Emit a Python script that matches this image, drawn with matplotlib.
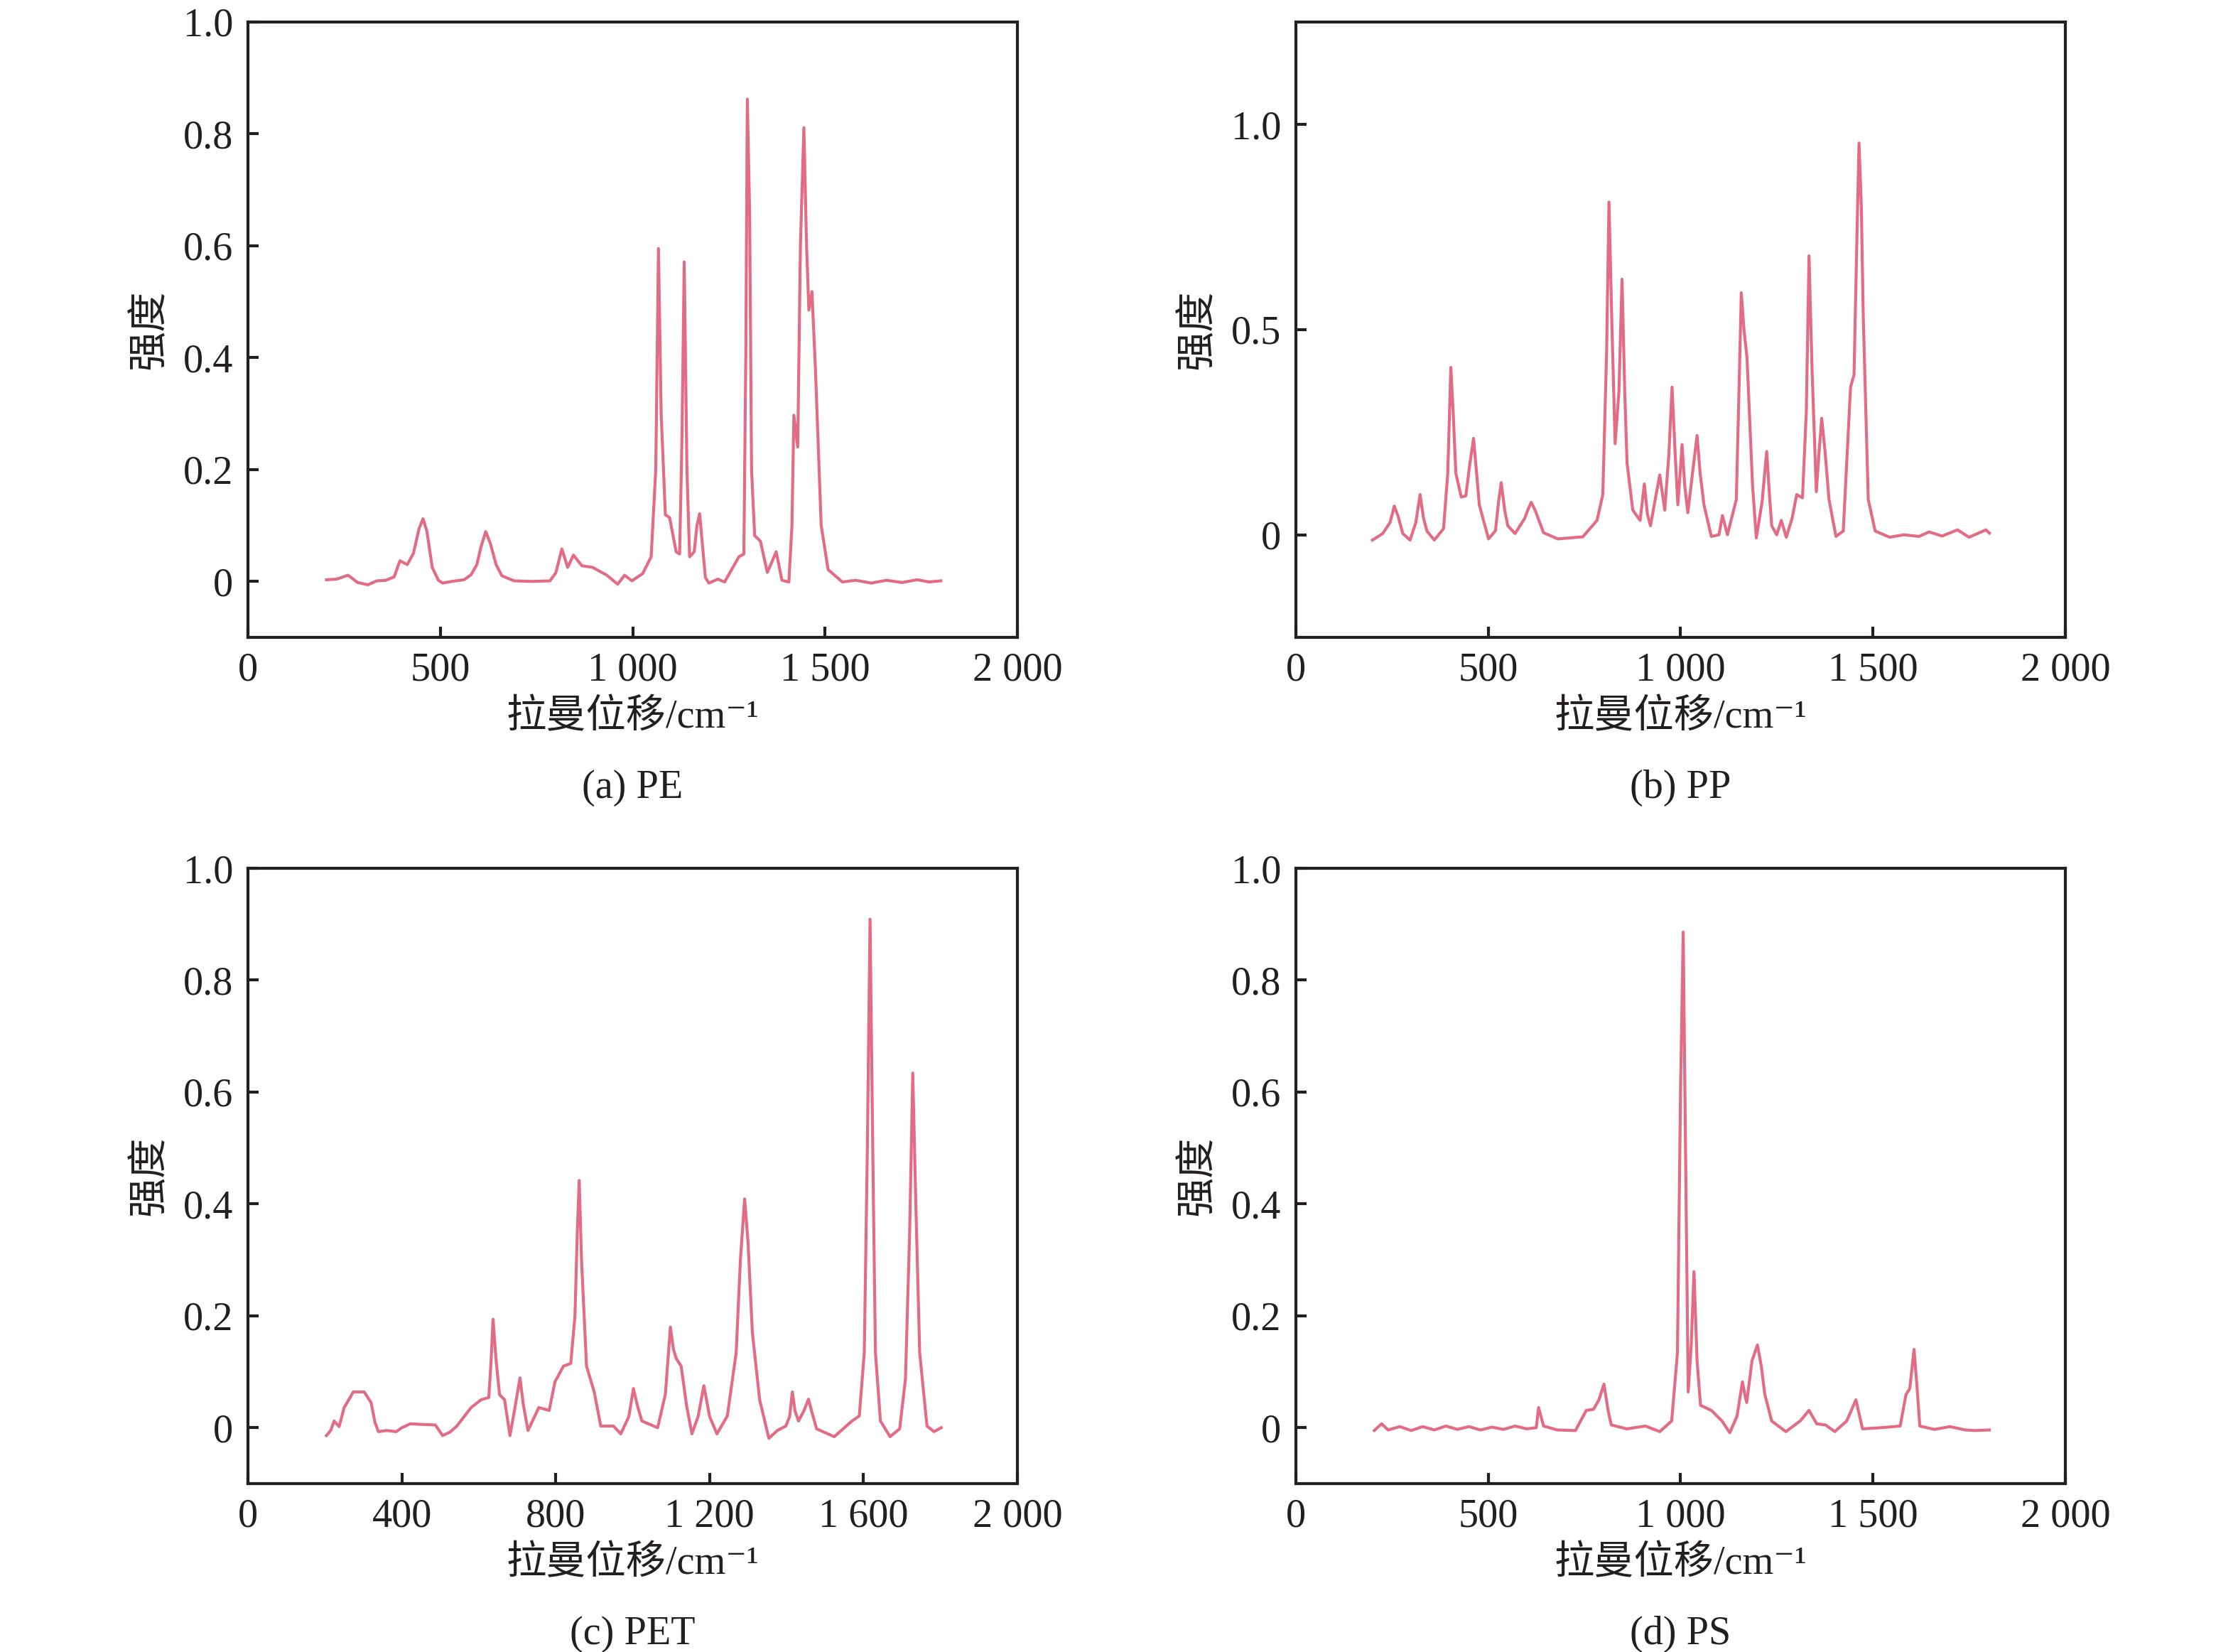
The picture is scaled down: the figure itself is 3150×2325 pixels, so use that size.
#!/usr/bin/env python3
"""Raman spectra of four microplastics (PE, PP, PET, PS) in a 2x2 grid."""

import matplotlib
matplotlib.use("Agg")
import matplotlib.pyplot as plt
from matplotlib.ticker import FixedLocator, FuncFormatter

plt.rcParams["font.family"] = ["Liberation Serif", "Noto Sans CJK SC", "DejaVu Sans"]
plt.rcParams["axes.unicode_minus"] = False

# ---- data (Raman shift / cm-1, normalised intensity)
PE_SHIFT = [204, 230, 260, 285, 312, 335, 358, 380, 395, 414, 430, 445, 455, 465,
            479, 495, 506, 530, 562, 580, 595, 605, 618, 630, 645, 660, 692, 740,
            785, 800, 816, 831, 846, 868, 896, 933, 961, 979, 998, 1026, 1048, 1060,
            1067, 1074, 1085, 1096, 1113, 1122, 1128, 1134, 1141, 1148, 1160, 1167,
            1174, 1189, 1198, 1221, 1239, 1276, 1289, 1294, 1298, 1304, 1309, 1317,
            1332, 1350, 1362, 1373, 1388, 1406, 1414, 1419, 1429, 1436, 1445, 1452,
            1458, 1466, 1475, 1490, 1508, 1545, 1580, 1620, 1660, 1700, 1740, 1770,
            1801]
PE_INTENSITY = [0.003, 0.004, 0.011, -0.002, -0.006, 0.001, 0.002, 0.008, 0.037, 0.030,
                0.050, 0.095, 0.112, 0.090, 0.025, 0.002, -0.003, 0.000, 0.003, 0.012,
                0.030, 0.060, 0.089, 0.068, 0.030, 0.010, 0.001, 0.000, 0.001, 0.015,
                0.058, 0.025, 0.047, 0.028, 0.025, 0.011, -0.005, 0.011, 0.001, 0.014,
                0.044, 0.200, 0.595, 0.300, 0.119, 0.114, 0.053, 0.049, 0.250, 0.571,
                0.200, 0.044, 0.053, 0.100, 0.121, 0.007, -0.003, 0.004, -0.001, 0.044,
                0.049, 0.400, 0.862, 0.660, 0.200, 0.082, 0.072, 0.016, 0.035, 0.053,
                0.002, -0.001, 0.100, 0.297, 0.240, 0.600, 0.811, 0.600, 0.485, 0.518,
                0.380, 0.100, 0.021, -0.001, 0.002, -0.003, 0.002, -0.002, 0.003, -0.001,
                0.001]

PP_SHIFT = [199, 226, 245, 256, 266, 278, 297, 312, 323, 332, 341, 360, 384, 395,
            403, 409, 416, 430, 442, 452, 462, 470, 477, 501, 519, 527, 534, 543,
            551, 570, 595, 605, 612, 622, 644, 681, 746, 783, 798, 808, 814, 822,
            830, 840, 848, 855, 861, 876, 895, 906, 914, 922, 935, 946, 953, 959,
            970, 978, 986, 993, 999, 1004, 1011, 1019, 1035, 1043, 1051, 1061, 1080,
            1100, 1109, 1122, 1145, 1152, 1158, 1165, 1173, 1187, 1197, 1212, 1224,
            1231, 1237, 1250, 1262, 1275, 1290, 1302, 1317, 1327, 1334, 1342, 1353,
            1360, 1367, 1376, 1386, 1404, 1423, 1442, 1451, 1458, 1464, 1470, 1475,
            1488, 1506, 1544, 1580, 1620, 1646, 1680, 1720, 1750, 1794, 1803]
PP_INTENSITY = [-0.013, 0.003, 0.030, 0.070, 0.045, 0.003, -0.013, 0.030, 0.098, 0.040,
                0.009, -0.013, 0.015, 0.150, 0.408, 0.300, 0.150, 0.092, 0.095, 0.170,
                0.235, 0.150, 0.073, -0.010, 0.010, 0.080, 0.127, 0.060, 0.022, 0.003,
                0.040, 0.065, 0.079, 0.060, 0.005, -0.010, -0.005, 0.035, 0.098, 0.450,
                0.811, 0.500, 0.222, 0.350, 0.623, 0.350, 0.175, 0.060, 0.035, 0.124,
                0.050, 0.022, 0.090, 0.146, 0.100, 0.060, 0.200, 0.360, 0.200, 0.073,
                0.150, 0.220, 0.120, 0.054, 0.180, 0.242, 0.150, 0.073, -0.004, 0.000,
                0.047, 0.000, 0.086, 0.350, 0.590, 0.500, 0.430, 0.124, -0.008, 0.080,
                0.203, 0.100, 0.022, 0.000, 0.035, -0.006, 0.040, 0.098, 0.090, 0.300,
                0.680, 0.400, 0.105, 0.200, 0.284, 0.200, 0.086, -0.004, 0.009, 0.360,
                0.390, 0.700, 0.955, 0.800, 0.533, 0.086, 0.009, -0.006, 0.000, -0.004,
                0.007, -0.003, 0.012, -0.006, 0.012, 0.004]

PET_SHIFT = [204, 215, 224, 237, 250, 262, 274, 302, 320, 330, 339, 360, 385, 400,
             422, 450, 487, 506, 525, 543, 562, 580, 606, 626, 632, 637, 645, 654,
             667, 681, 695, 707, 716, 728, 745, 756, 783, 798, 820, 839, 850, 856,
             861, 867, 880, 900, 917, 950, 969, 990, 1002, 1012, 1024, 1065, 1085,
             1098, 1106, 1113, 1126, 1140, 1154, 1170, 1185, 1200, 1219, 1246, 1269,
             1280, 1291, 1300, 1311, 1330, 1354, 1376, 1398, 1408, 1415, 1422, 1431,
             1445, 1457, 1465, 1478, 1524, 1570, 1589, 1602, 1610, 1617, 1624, 1631,
             1644, 1669, 1694, 1709, 1720, 1728, 1736, 1746, 1765, 1783, 1802]
PET_INTENSITY = [-0.014, -0.005, 0.012, 0.002, 0.036, 0.050, 0.064, 0.064, 0.045, 0.010,
                 -0.007, -0.005, -0.007, 0.000, 0.007, 0.006, 0.005, -0.014, -0.008, 0.003,
                 0.020, 0.036, 0.050, 0.054, 0.120, 0.194, 0.120, 0.059, 0.050, -0.014,
                 0.040, 0.089, 0.040, -0.005, 0.020, 0.036, 0.031, 0.082, 0.110, 0.115,
                 0.200, 0.350, 0.442, 0.300, 0.110, 0.064, 0.003, 0.003, -0.011, 0.020,
                 0.070, 0.040, 0.012, 0.000, 0.060, 0.180, 0.140, 0.124, 0.110, 0.040,
                 -0.011, 0.020, 0.075, 0.020, -0.011, 0.021, 0.134, 0.300, 0.409, 0.330,
                 0.171, 0.050, -0.019, -0.005, 0.003, 0.020, 0.064, 0.030, 0.012, 0.030,
                 0.051, 0.030, -0.002, -0.016, 0.012, 0.021, 0.134, 0.500, 0.909, 0.500,
                 0.134, 0.012, -0.016, -0.002, 0.087, 0.350, 0.634, 0.400, 0.134, 0.003,
                 -0.007, 0.000]

PS_SHIFT = [204, 223, 240, 270, 300, 330, 360, 390, 420, 450, 480, 510, 540, 570,
            600, 625, 631, 644, 680, 727, 755, 774, 788, 801, 812, 820, 860, 909,
            946, 977, 992, 1000, 1007, 1013, 1020, 1028, 1035, 1043, 1052, 1080,
            1108, 1128, 1147, 1161, 1167, 1172, 1186, 1200, 1210, 1219, 1237, 1274,
            1311, 1334, 1354, 1377, 1401, 1432, 1456, 1473, 1520, 1571, 1586, 1596,
            1607, 1614, 1622, 1660, 1700, 1740, 1766, 1803]
PS_INTENSITY = [-0.005, 0.007, -0.004, 0.002, -0.005, 0.002, -0.004, 0.003, -0.003, 0.002,
                -0.004, 0.001, -0.003, 0.003, -0.002, 0.000, 0.036, 0.003, -0.004, -0.005,
                0.031, 0.033, 0.050, 0.078, 0.030, 0.005, -0.002, 0.003, -0.007, 0.012,
                0.134, 0.600, 0.886, 0.500, 0.064, 0.150, 0.279, 0.120, 0.040, 0.031,
                0.012, -0.009, 0.021, 0.082, 0.060, 0.045, 0.120, 0.148, 0.110, 0.060,
                0.012, -0.007, 0.012, 0.031, 0.007, 0.005, -0.007, 0.012, 0.050, -0.002,
                0.000, 0.003, 0.059, 0.070, 0.140, 0.080, 0.003, -0.003, 0.002, -0.004,
                -0.005, -0.004]

PANELS = [
    # shift, intensity, caption, x ticks, y ticks, y limits
    (PE_SHIFT, PE_INTENSITY, "(a) PE", [0, 500, 1000, 1500, 2000],
     [0, 0.2, 0.4, 0.6, 0.8, 1.0], (-0.1, 1.0)),
    (PP_SHIFT, PP_INTENSITY, "(b) PP", [0, 500, 1000, 1500, 2000],
     [0, 0.5, 1.0], (-0.25, 1.25)),
    (PET_SHIFT, PET_INTENSITY, "(c) PET", [0, 400, 800, 1200, 1600, 2000],
     [0, 0.2, 0.4, 0.6, 0.8, 1.0], (-0.1, 1.0)),
    (PS_SHIFT, PS_INTENSITY, "(d) PS", [0, 500, 1000, 1500, 2000],
     [0, 0.2, 0.4, 0.6, 0.8, 1.0], (-0.1, 1.0)),
]

LINE_COLOUR = "#e2647e"
TEXT_COLOUR = "#231f20"
FS = 13.5

# axes rectangles in figure fractions (left, bottom, width, height)
LEFTS = [0.1108, 0.5790]
BOTTOMS = [0.6142, 0.1019]
W, H = 0.3438, 0.3725


def fmt_x(v, _pos):
    return f"{int(round(v)):,}".replace(",", " ")


def fmt_y(v, _pos):
    if abs(v) < 1e-9:
        return "0"
    return f"{v:.1f}"


fig = plt.figure(figsize=(10.5, 7.75), dpi=300)

for i, (xs, ys, caption, xticks, yticks, ylim) in enumerate(PANELS):
    row, col = divmod(i, 2)
    ax = fig.add_axes([LEFTS[col], BOTTOMS[row], W, H])
    ax.plot(xs, ys, color=LINE_COLOUR, lw=1.0, alpha=0.95,
            solid_joinstyle="round")

    ax.set_xlim(0, 2000)
    ax.set_ylim(*ylim)
    ax.xaxis.set_major_locator(FixedLocator(xticks))
    ax.yaxis.set_major_locator(FixedLocator(yticks))
    ax.xaxis.set_major_formatter(FuncFormatter(fmt_x))
    ax.yaxis.set_major_formatter(FuncFormatter(fmt_y))
    ax.tick_params(direction="in", length=3.5, width=1.0, labelsize=FS,
                   top=False, right=False, colors=TEXT_COLOUR)
    ax.tick_params(axis="x", pad=5)
    ax.tick_params(axis="y", pad=5)
    for sp in ax.spines.values():
        sp.set_linewidth(1.0)
        sp.set_color(TEXT_COLOUR)

    ax.set_ylabel("强度", fontsize=FS, color=TEXT_COLOUR)
    ax.yaxis.set_label_coords(-0.103, 0.5)
    ax.set_xlabel("拉曼位移/cm⁻¹", fontsize=FS, color=TEXT_COLOUR)
    ax.xaxis.set_label_coords(0.5, -0.100)
    ax.text(0.5, -0.245, caption, transform=ax.transAxes, ha="center",
            va="center", fontsize=FS, color=TEXT_COLOUR)

fig.savefig("out.png", dpi=300)
